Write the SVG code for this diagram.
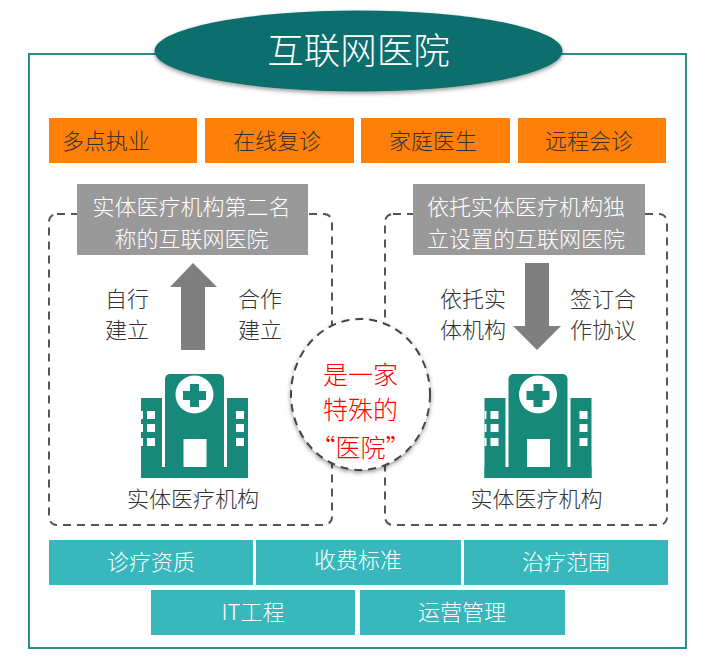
<svg xmlns="http://www.w3.org/2000/svg" width="710" height="668" viewBox="0 0 710 668">
<style>
text{font-family:"Noto Sans CJK SC","Noto Sans",sans-serif;font-size:22px;text-anchor:middle;font-weight:300}
.d{fill:#333}.w{fill:#fff}.r{fill:#f00;font-weight:300;font-size:25px}
.o{fill:#ff7f08}.g{fill:#999}.t{fill:#38b8bd}.a{fill:#7f7f7f}
.dash{fill:none;stroke:#555;stroke-width:2;stroke-dasharray:8 6}
.b{fill:#17897b}.h{fill:#fff}
</style>
<defs>
<filter id="s" x="-10%" y="-10%" width="120%" height="125%"><feDropShadow dx="0" dy="2" stdDeviation="2" flood-color="#000" flood-opacity=".4"/></filter>
<g id="hosp">
<rect class="b" x="141" y="398" width="21" height="80"/>
<rect class="b" x="227" y="398" width="21" height="80"/>
<rect class="b" x="141" y="467" width="107" height="11"/>
<rect class="b" x="165" y="374" width="59" height="100" rx="5"/>
<circle class="h" cx="194.500" cy="394.500" r="19"/>
<path class="b" d="M190 384h9v7h7v9h-7v7h-9v-7h-7v-9h7z"/>
<rect class="h" x="183.500" y="439" width="23" height="28"/>
<g class="h">
<rect x="147" y="411" width="8" height="8"/><rect x="147" y="424" width="8" height="8"/><rect x="147" y="438" width="8" height="8"/>
<rect x="141" y="411" width="2" height="8"/><rect x="141" y="424" width="2" height="8"/><rect x="141" y="438" width="2" height="8"/>
<rect x="236" y="411" width="8" height="8"/><rect x="236" y="424" width="8" height="8"/><rect x="236" y="438" width="8" height="8"/>
</g>
</g>
</defs>
<g id="frame"><rect x="29" y="54" width="657" height="594" fill="#fff" stroke="#2e8b8b" stroke-width="2"/></g>
<g id="title"><ellipse cx="358.500" cy="51" rx="204" ry="40.500" fill="#116e6e" filter="url(#s)"/><text class="w" x="358.500" y="64" style="font-size:36.500px">互联网医院</text></g>

<g id="n1"><rect class="o" x="49" y="118" width="148" height="45"/><text class="d" x="106" y="149">多点执业</text></g>
<g id="n2"><rect class="o" x="205" y="118" width="149" height="45"/><text class="d" x="277" y="149">在线复诊</text></g>
<g id="n3"><rect class="o" x="361" y="118" width="149" height="45"/><text class="d" x="433" y="149">家庭医生</text></g>
<g id="n4"><rect class="o" x="518" y="118" width="148" height="45"/><text class="d" x="589" y="149">远程会诊</text></g>

<g id="connectors">
<rect class="dash" x="49" y="214" width="283" height="311" rx="8"/>
<rect class="dash" x="385" y="214" width="282" height="311" rx="8"/>
<path class="a" d="M193 263L217 287H205V350H181V287H170Z"/>
<path class="a" d="M525 263H549V326H561L537 350L513 326H525Z"/>
</g>

<g id="left-head"><rect class="g" x="77" y="184" width="231" height="71"/><text class="w" x="191.500" y="215">实体医疗机构第二名</text><text class="w" x="191.500" y="247">称的互联网医院</text></g>
<g id="right-head"><rect class="g" x="413" y="184" width="232" height="71"/><text class="w" x="526" y="215">依托实体医疗机构独</text><text class="w" x="526" y="247">立设置的互联网医院</text></g>

<g id="l1"><text class="d" x="127" y="307">自行</text><text class="d" x="127" y="338">建立</text></g>
<g id="l2"><text class="d" x="260" y="307">合作</text><text class="d" x="260" y="338">建立</text></g>
<g id="l3"><text class="d" x="473" y="307">依托实</text><text class="d" x="473" y="338">体机构</text></g>
<g id="l4"><text class="d" x="603" y="307">签订合</text><text class="d" x="603" y="338">作协议</text></g>

<g id="center"><ellipse cx="360.500" cy="394.500" rx="69.500" ry="75.500" fill="#fff" stroke="#444" stroke-width="2" stroke-dasharray="8 6" filter="url(#s)"/>
<text class="r" x="360.500" y="384">是一家</text><text class="r" x="360.500" y="419">特殊的</text><text class="r" x="360.500" y="457">“医院”</text></g>

<g id="hosp-left"><use href="#hosp"/><text class="d" x="193" y="507">实体医疗机构</text></g>
<g id="hosp-right"><use href="#hosp" x="343.500"/><text class="d" x="536.500" y="507">实体医疗机构</text></g>

<g id="b1"><rect class="t" x="49" y="540" width="204" height="45"/><text class="w" x="151" y="570">诊疗资质</text></g>
<g id="b2"><rect class="t" x="256" y="540" width="205" height="45"/><text class="w" x="358" y="568">收费标准</text></g>
<g id="b3"><rect class="t" x="464" y="540" width="204" height="45"/><text class="w" x="566" y="570">治疗范围</text></g>
<g id="b4"><rect class="t" x="151" y="590" width="204" height="45"/><text class="w" x="253" y="620">IT工程</text></g>
<g id="b5"><rect class="t" x="360" y="590" width="205" height="45"/><text class="w" x="462" y="620">运营管理</text></g>
</svg>
